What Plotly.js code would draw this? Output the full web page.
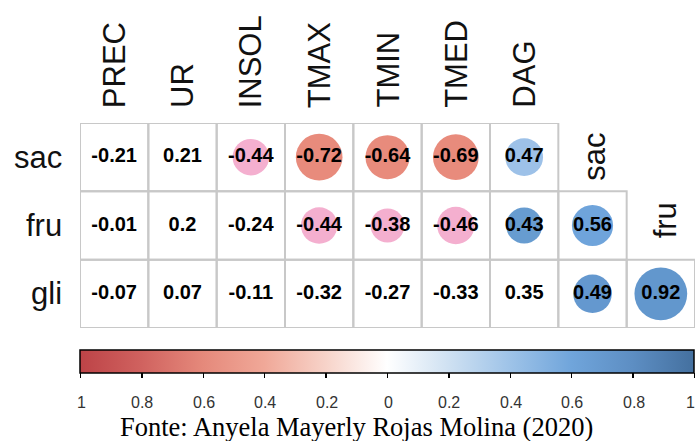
<!DOCTYPE html>
<html>
<head>
<meta charset="utf-8">
<script src="https://cdn.plot.ly/plotly-3.0.1.min.js"></script>
<style>html,body{margin:0;padding:0;background:#fff;}#chart{width:697px;height:441px;}</style>
</head>
<body>
<div id="chart"></div>
<script>
// ---- data ----
const rowNames = ['sac', 'fru', 'gli'];
const colNames = ['PREC', 'UR', 'INSOL', 'TMAX', 'TMIN', 'TMED', 'DAG', 'sac', 'fru'];
const sacValues = [-0.21, 0.21, -0.44, -0.72, -0.64, -0.69, 0.47];
const fruValues = [-0.01, 0.2, -0.24, -0.44, -0.38, -0.46, 0.43, 0.56];
const gliValues = [-0.07, 0.07, -0.11, -0.32, -0.27, -0.33, 0.35, 0.49, 0.92];
// cells drawn with a circle (1 = circle)
const sacCircle = [0, 0, 1, 1, 1, 1, 1];
const fruCircle = [0, 0, 0, 1, 1, 1, 1, 1];
const gliCircle = [0, 0, 0, 0, 0, 0, 0, 1, 1];
const colorbarTicks = [-1, -0.8, -0.6, -0.4, -0.2, 0, 0.2, 0.4, 0.6, 0.8, 1];
const caption = 'Fonte: Anyela Mayerly Rojas Molina (2020)';

// ---- styles ----
const sacColors = [null, null, '#F4AFCF', '#E88B7C', '#E88B7C', '#E88B7C', '#9DC1E8'];
const fruColors = [null, null, null, '#F4AFCF', '#F4AFCF', '#F4AFCF', '#679CD0', '#6FA4DB'];
const gliColors = [null, null, null, null, null, null, null, '#6498CF', '#6297CD'];
const colorscale = [[0, '#BD4347'], [0.1, '#D0625F'], [0.2, '#E5897B'], [0.3, '#F0A898'], [0.4, '#F7D3C9'],
  [0.5, '#FFFFFF'], [0.6, '#CFE1F2'], [0.7, '#9EC3E8'], [0.8, '#70A5DB'], [0.9, '#5D8EC3'], [1, '#44709F']];

const allValues = [sacValues, fruValues, gliValues];
const allCircles = [sacCircle, fruCircle, gliCircle];
const allColors = [sacColors, fruColors, gliColors];

const cx = [], cy = [], csize = [], ccolor = [];
const tx = [], ty = [], tt = [];
const shapes = [];
allValues.forEach((vals, r) => {
  vals.forEach((v, c) => {
    tx.push(c); ty.push(r); tt.push(String(v));
    shapes.push({type: 'rect', xref: 'x', yref: 'y', x0: c - 0.5, x1: c + 0.5, y0: r - 0.5, y1: r + 0.5,
      line: {color: '#C8C8C8', width: 2}, fillcolor: 'rgba(0,0,0,0)', layer: 'below'});
    if (allCircles[r][c]) {
      cx.push(c); cy.push(r);
      csize.push(55 * Math.sqrt(Math.abs(v)));
      ccolor.push(allColors[r][c]);
    }
  });
});

const circles = {
  type: 'scatter', mode: 'markers', x: cx, y: cy, hoverinfo: 'skip',
  marker: {size: csize, color: ccolor, line: {width: 0}, opacity: 1},
  showlegend: false
};
const texts = {
  type: 'scatter', mode: 'text', x: tx, y: ty, text: tt, hoverinfo: 'skip',
  textfont: {family: 'Liberation Sans, Arial, sans-serif', size: 20, color: '#000', weight: 'bold'},
  textposition: 'middle center', showlegend: false
};
const scaleTrace = {
  type: 'scatter', mode: 'markers', x: [0, 0], y: [0, 0], hoverinfo: 'skip', showlegend: false,
  marker: {
    size: 1, opacity: 0, color: [colorbarTicks[0], colorbarTicks[colorbarTicks.length - 1]],
    cmin: -1, cmax: 1, colorscale: colorscale, showscale: true,
    colorbar: {
      orientation: 'h', x: 0.5, xanchor: 'center', y: -0.107, yanchor: 'top',
      len: 614, lenmode: 'pixels', thickness: 23, thicknessmode: 'pixels',
      outlinecolor: '#000', outlinewidth: 1.5, borderwidth: 0, xpad: 0, ypad: 0,
      ticks: 'outside', ticklen: 5, tickwidth: 1.5, tickcolor: '#000',
      tickmode: 'array', tickvals: colorbarTicks, showticklabels: false
    }
  }
};

const annotations = [];
const labelFont = {family: 'Liberation Sans, Arial, sans-serif', size: 31, color: '#111'};
colNames.forEach((name, c) => {
  if (c < 7) {
    annotations.push({xref: 'x', yref: 'paper', x: c, y: 1, yanchor: 'bottom', xanchor: 'center',
      yshift: 13, text: name, showarrow: false, textangle: -90, font: labelFont});
  }
});
rowNames.forEach((name, r) => {
  annotations.push({xref: 'paper', yref: 'y', x: 0, y: r, xanchor: 'right', yanchor: 'middle',
    xshift: -16, text: name, showarrow: false, font: labelFont});
  const dc = allValues[r].length;
  if (dc < colNames.length) {
    annotations.push({xref: 'x', yref: 'y', x: dc, y: r, xanchor: 'center', yanchor: 'middle',
      xshift: r === 1 ? 5 : 2, yshift: r === 1 ? 5 : 0,
      text: name, showarrow: false, textangle: -90, font: labelFont});
  }
});
// colorbar tick labels (absolute values), placed on the colorbar's own scale
const barLeft = 81, barWidth = 614, plotLeft = 80, plotWidth = 615;
colorbarTicks.forEach((v, i) => {
  const last = i === colorbarTicks.length - 1;
  const px = barLeft + (v + 1) / 2 * barWidth;
  annotations.push({xref: 'paper', yref: 'paper', x: (px - plotLeft) / plotWidth, y: -0.361,
    xanchor: last ? 'right' : 'center', xshift: last ? 2 : 0, yanchor: 'middle',
    text: String(Math.abs(v)), showarrow: false,
    font: {family: 'Liberation Sans, Arial, sans-serif', size: 16, color: '#333'}});
});
annotations.push({xref: 'paper', yref: 'paper', x: 0.4496, y: -0.545, yshift: -4, xanchor: 'center', yanchor: 'bottom',
  text: caption, showarrow: false,
  font: {family: 'Liberation Serif, Times New Roman, serif', size: 26.5, color: '#000'}});

const layout = {
  width: 697, height: 441,
  margin: {l: 80, r: 2, t: 123, b: 113, pad: 0},
  paper_bgcolor: '#fff', plot_bgcolor: '#fff',
  xaxis: {range: [-0.5, colNames.length - 0.5], visible: false, fixedrange: true},
  yaxis: {range: [rowNames.length - 0.5, -0.5], visible: false, fixedrange: true},
  shapes: shapes, annotations: annotations, showlegend: false
};

Plotly.newPlot('chart', [scaleTrace, circles, texts], layout, {displayModeBar: false, staticPlot: true});
</script>
</body>
</html>
